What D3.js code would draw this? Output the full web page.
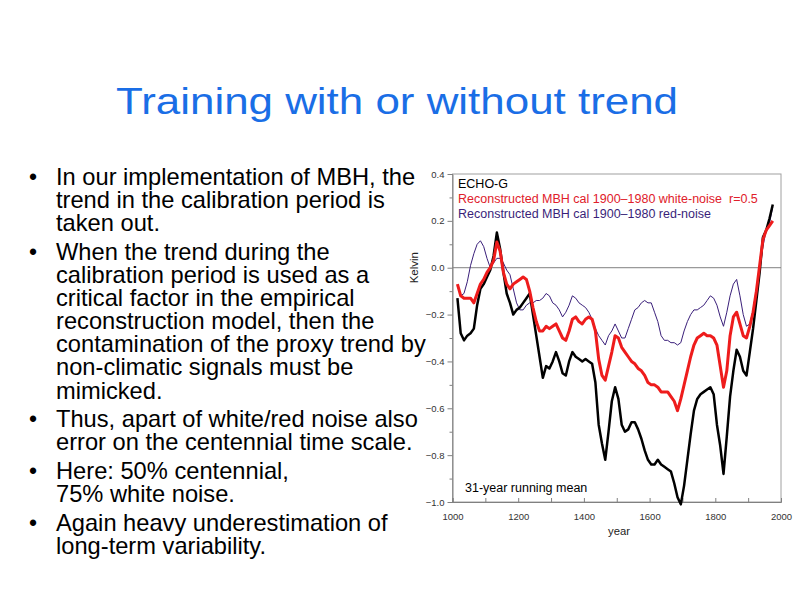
<!DOCTYPE html>
<html>
  <head>
    <meta charset="UTF-8">
    <title>Training with or without trend</title>
    <style>
      * { margin: 0; padding: 0; overflow: hidden; }
      body { background: #fff; }
    </style>
    <script src="https://d3js.org/d3.v7.min.js"></script>
  </head>
  <body>
    <script type="text/javascript">
      // sampled years (31-year running mean)
      const years = [
        1015, 1025, 1035, 1045, 1055, 1065, 1075, 1085, 1095, 1105,
        1115, 1125, 1135, 1145, 1155, 1165, 1175, 1185, 1195, 1205,
        1215, 1225, 1235, 1245, 1255, 1265, 1275, 1285, 1295, 1305,
        1315, 1325, 1335, 1345, 1355, 1365, 1375, 1385, 1395, 1405,
        1415, 1425, 1435, 1445, 1455, 1465, 1475, 1485, 1495, 1505,
        1515, 1525, 1535, 1545, 1555, 1565, 1575, 1585, 1595, 1605,
        1615, 1625, 1635, 1645, 1655, 1665, 1675, 1685, 1695, 1705,
        1715, 1725, 1735, 1745, 1755, 1765, 1775, 1785, 1795, 1805,
        1815, 1825, 1835, 1845, 1855, 1865, 1875, 1885, 1895, 1905,
        1915, 1925, 1935, 1945, 1955, 1965, 1975
      ];
      // ECHO-G (black)
      const echoG = [
        -0.13, -0.28, -0.31, -0.29, -0.28, -0.26, -0.16, -0.09, -0.07, -0.04,
        -0.01, 0.05, 0.15, 0.08, -0.02, -0.11, -0.15, -0.20, -0.18, -0.17,
        -0.15, -0.13, -0.11, -0.20, -0.29, -0.38, -0.47, -0.42, -0.43, -0.40,
        -0.36, -0.40, -0.45, -0.46, -0.40, -0.36, -0.38, -0.39, -0.40, -0.39,
        -0.40, -0.41, -0.49, -0.67, -0.75, -0.82, -0.70, -0.57, -0.51, -0.56,
        -0.67, -0.70, -0.69, -0.66, -0.66, -0.69, -0.73, -0.78, -0.82, -0.84,
        -0.84, -0.82, -0.84, -0.85, -0.86, -0.87, -0.92, -0.98, -1.01, -0.93,
        -0.82, -0.71, -0.61, -0.56, -0.54, -0.53, -0.52, -0.51, -0.54, -0.67,
        -0.76, -0.88, -0.72, -0.55, -0.44, -0.35, -0.38, -0.44, -0.46, -0.36,
        -0.26, -0.14, -0.02, 0.13, 0.16, 0.21, 0.27
      ];
      // Reconstructed, white noise r=0.5 (red)
      const whiteNoise = [
        -0.07, -0.12, -0.13, -0.13, -0.13, -0.15, -0.11, -0.07, -0.05, -0.02,
        0.00, 0.03, 0.11, 0.07, -0.02, -0.07, -0.09, -0.07, -0.06, -0.05,
        -0.04, -0.05, -0.10, -0.17, -0.23, -0.27, -0.27, -0.25, -0.26, -0.25,
        -0.24, -0.27, -0.30, -0.31, -0.27, -0.22, -0.21, -0.23, -0.24, -0.22,
        -0.21, -0.22, -0.27, -0.39, -0.46, -0.48, -0.42, -0.36, -0.29, -0.30,
        -0.34, -0.36, -0.38, -0.40, -0.41, -0.43, -0.44, -0.46, -0.49, -0.50,
        -0.50, -0.51, -0.53, -0.53, -0.53, -0.55, -0.57, -0.61, -0.56, -0.50,
        -0.44, -0.38, -0.33, -0.30, -0.29, -0.28, -0.29, -0.29, -0.30, -0.33,
        -0.42, -0.51, -0.44, -0.29, -0.21, -0.19, -0.24, -0.29, -0.30, -0.25,
        -0.19, -0.10, 0.01, 0.12, 0.16, 0.18, 0.20
      ];
      // Reconstructed, red noise (purple)
      const redNoise = [
        -0.08, -0.12, -0.11, -0.06, 0.01, 0.06, 0.10, 0.115, 0.09, 0.04,
        0.00, 0.02, 0.04, 0.04, 0.02, -0.01, -0.03, -0.09, -0.15, -0.18,
        -0.18, -0.16, -0.15, -0.15, -0.14, -0.14, -0.13, -0.11, -0.12, -0.15,
        -0.16, -0.18, -0.21, -0.19, -0.16, -0.12, -0.13, -0.15, -0.16, -0.17,
        -0.19, -0.22, -0.26, -0.29, -0.31, -0.33, -0.29, -0.27, -0.24, -0.27,
        -0.30, -0.30, -0.26, -0.22, -0.18, -0.17, -0.15, -0.14, -0.15, -0.15,
        -0.19, -0.23, -0.29, -0.31, -0.31, -0.32, -0.32, -0.33, -0.32, -0.27,
        -0.23, -0.20, -0.18, -0.18, -0.17, -0.16, -0.14, -0.12, -0.13, -0.16,
        -0.21, -0.25, -0.19, -0.12, -0.07, -0.05, -0.12, -0.20, -0.25, -0.24,
        -0.18, -0.09, -0.01, 0.09, 0.16, 0.19, 0.26
      ];
      const xTicks = [1000, 1200, 1400, 1600, 1800, 2000];
      const yTicks = [0.4, 0.2, 0.0, -0.2, -0.4, -0.6, -0.8, -1.0];

      const bullets = [
        ["In our implementation of MBH, the", "trend in the calibration period is", "taken out."],
        ["When the trend during the", "calibration period is used as a", "critical factor in the empirical",
         "reconstruction model, then the", "contamination of the proxy trend by",
         "non-climatic signals must be", "mimicked."],
        ["Thus, apart of white/red noise also", "error on the centennial time scale."],
        ["Here: 50% centennial,", "75% white noise."],
        ["Again heavy underestimation of", "long-term variability."]
      ];

      const W = 794, H = 596;
      const FONT = "'Liberation Sans', Arial, sans-serif";

      const svg = d3.select("body").append("svg")
        .attr("width", W).attr("height", H)
        .style("font-family", FONT);
      svg.append("rect").attr("width", W).attr("height", H).attr("fill", "#fff");

      // title (slide is stretched a little horizontally)
      svg.append("text")
        .attr("x", 116).attr("y", 114)
        .attr("font-size", 36)
        .attr("fill", "#1a6ee6")
        .attr("textLength", 562)
        .attr("lengthAdjust", "spacingAndGlyphs")
        .text("Training with or without trend");

      // bullet list
      let y = 185;
      const txt = svg.append("g").attr("font-size", 23).attr("fill", "#000");
      bullets.forEach((lines) => {
        txt.append("text").attr("x", 29).attr("y", y).text("•");
        lines.forEach((l) => {
          txt.append("text")
            .attr("transform", `translate(56,${y}) scale(1.03,1)`)
            .text(l);
          y += 23.1;
        });
        y += 5.6;
      });

      // chart
      const x = d3.scaleLinear().domain([1000, 2000]).range([452.5, 781]);
      const yS = d3.scaleLinear().domain([-1.0, 0.4]).range([502, 174]);

      const chart = svg.append("g");

      // frame
      chart.append("rect")
        .attr("x", x(1000)).attr("y", yS(0.4))
        .attr("width", x(2000) - x(1000)).attr("height", yS(-1.0) - yS(0.4))
        .attr("fill", "none").attr("stroke", "#a0a0a0").attr("stroke-width", 1);
      chart.append("line")
        .attr("x1", x(1000)).attr("x2", x(2000))
        .attr("y1", yS(0)).attr("y2", yS(0))
        .attr("stroke", "#808080").attr("stroke-width", 1);

      // axes
      const isMajor = (d) => yTicks.some((t) => Math.abs(t - d) < 1e-6);
      const yAxis = d3.axisLeft(yS).tickValues(d3.range(-1.0, 0.41, 0.1))
        .tickSize(4).tickFormat((d) => isMajor(d) ? d3.format(".1f")(d) : "");
      const gy = chart.append("g").attr("transform", `translate(${x(1000)},0)`).call(yAxis);
      gy.selectAll(".tick line").attr("x2", (d) => isMajor(d) ? -5 : -3);
      const xAxis = d3.axisBottom(x).tickValues(d3.range(1000, 2001, 100))
        .tickSize(-4).tickFormat((d) => xTicks.includes(d) ? d : "");
      const gx = chart.append("g").attr("transform", `translate(0,${yS(-1.0)})`).call(xAxis);
      [gx, gy].forEach((g) => {
        g.select(".domain").attr("stroke", "#808080");
        g.selectAll(".tick line").attr("stroke", "#808080");
        g.selectAll(".tick text").attr("fill", "#333").attr("font-size", 9.5)
          .style("font-family", FONT);
      });
      gy.selectAll(".tick text").attr("x", -8);
      gx.selectAll(".tick text").attr("y", 11);

      chart.append("text")
        .attr("transform", `translate(418,${yS(0)}) rotate(-90)`)
        .attr("text-anchor", "middle")
        .attr("font-size", 11.5).attr("fill", "#222")
        .text("Kelvin");
      chart.append("text")
        .attr("x", 619).attr("y", 535)
        .attr("text-anchor", "middle")
        .attr("font-size", 11.3).attr("fill", "#222")
        .text("year");

      // series
      const series = [
        { values: redNoise, color: "#3a1f7a", width: 1 },
        { values: echoG, color: "#000000", width: 2.5 },
        { values: whiteNoise, color: "#ee1c1c", width: 3 }
      ];
      const line = d3.line()
        .x((d, i) => x(years[i]))
        .y((d) => yS(d))
        .curve(d3.curveLinear);
      chart.selectAll(".series")
        .data(series)
        .enter()
        .append("path")
        .attr("class", "series")
        .attr("d", (s) => line(s.values))
        .attr("fill", "none")
        .attr("stroke", (s) => s.color)
        .attr("stroke-width", (s) => s.width)
        .attr("stroke-linejoin", "round");

      // legend
      const legend = chart.append("g").attr("font-size", 12.5);
      legend.append("text").attr("x", 458).attr("y", 188).attr("fill", "#000").text("ECHO-G");
      legend.append("text").attr("x", 458).attr("y", 202.5).attr("fill", "#e0202a")
        .attr("xml:space", "preserve")
        .text("Reconstructed MBH cal 1900\u20131980 white-noise  r=0.5");
      legend.append("text").attr("x", 458).attr("y", 217.5).attr("fill", "#3a1f7a")
        .text("Reconstructed MBH cal 1900\u20131980 red-noise");
      chart.append("text").attr("x", 465).attr("y", 491.5).attr("font-size", 12.5)
        .attr("fill", "#000").text("31-year running mean");
    </script>
  </body>
</html>
